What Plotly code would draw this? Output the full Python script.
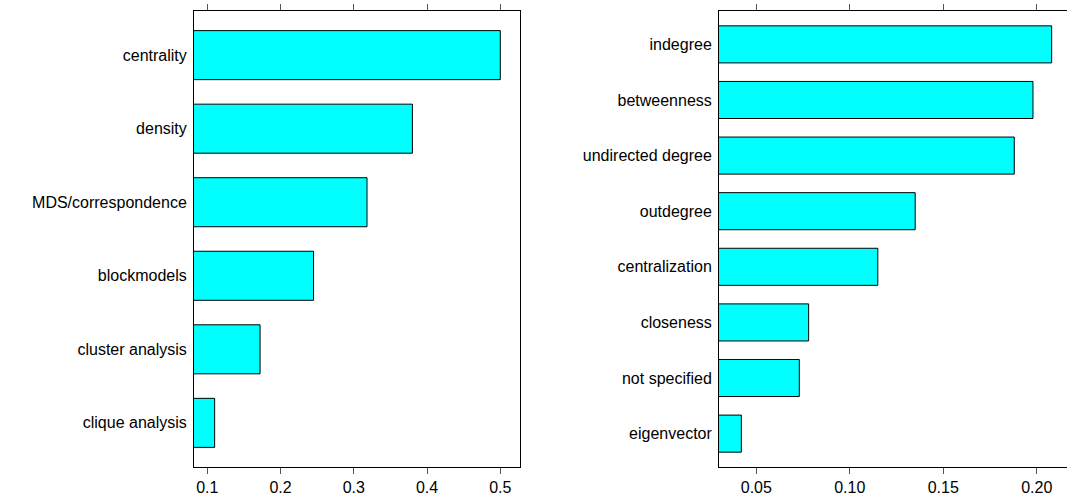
import plotly.graph_objects as go

# Left panel data (top to bottom)
left_categories = ["centrality", "density", "MDS/correspondence", "blockmodels",
                   "cluster analysis", "clique analysis"]
left_values = [0.500, 0.380, 0.318, 0.245, 0.172, 0.110]
left_ticks = [0.1, 0.2, 0.3, 0.4, 0.5]

# Right panel data (top to bottom)
right_categories = ["indegree", "betweenness", "undirected degree", "outdegree",
                    "centralization", "closeness", "not specified", "eigenvector"]
right_values = [0.208, 0.198, 0.188, 0.135, 0.115, 0.078, 0.073, 0.042]
right_ticks = [0.05, 0.10, 0.15, 0.20]

FONT = "Liberation Sans, Arial, sans-serif"
bar_style = dict(marker=dict(color="#00FFFF", line=dict(color="black", width=1)),
                 orientation="h", showlegend=False, hoverinfo="x+y")

fig = go.Figure()
fig.add_trace(go.Bar(x=left_values, y=left_categories, xaxis="x", yaxis="y", **bar_style))
fig.add_trace(go.Bar(x=right_values, y=right_categories, xaxis="x2", yaxis="y2", **bar_style))

W, H = 1067, 497
common_x = dict(showline=True, linecolor="black", linewidth=1, ticks="outside",
                ticklen=6, tickcolor="#555", tickwidth=1, showgrid=False,
                zeroline=False, tickfont=dict(family=FONT, size=16, color="black"))
common_y = dict(showline=True, linecolor="black", linewidth=1, ticks="",
                showgrid=False, zeroline=False, type="category",
                ticklabelstandoff=3,
                tickfont=dict(family=FONT, size=16, color="black"))

fig.update_layout(
    width=W, height=H,
    margin=dict(l=0, r=0, t=11, b=30),
    paper_bgcolor="white", plot_bgcolor="white",
    bargap=1/3,
    font=dict(family=FONT, size=16, color="black"),
    xaxis=dict(domain=[194/W, 520.3/W], range=[0.0818, 0.5273], anchor="y",
               tickvals=left_ticks, tickformat=".1f", mirror="ticks", **common_x),
    yaxis=dict(domain=[0, 1], anchor="x", mirror=True,
               categoryorder="array", categoryarray=left_categories,
               range=[len(left_categories) - 0.4, -0.6], **common_y),
    xaxis2=dict(domain=[719/W, 1.0], range=[0.03005, 0.2162], anchor="y2",
                tickvals=right_ticks, tickformat=".2f", mirror="ticks", **common_x),
    yaxis2=dict(domain=[0, 1], anchor="x2", mirror=False,
                categoryorder="array", categoryarray=right_categories,
                range=[len(right_categories) - 0.4, -0.6], **common_y),
)

fig.write_html(
    "out.html",
    config={"displayModeBar": False},
    post_script="document.body.style.margin='0';document.body.style.overflow='hidden';",
)
